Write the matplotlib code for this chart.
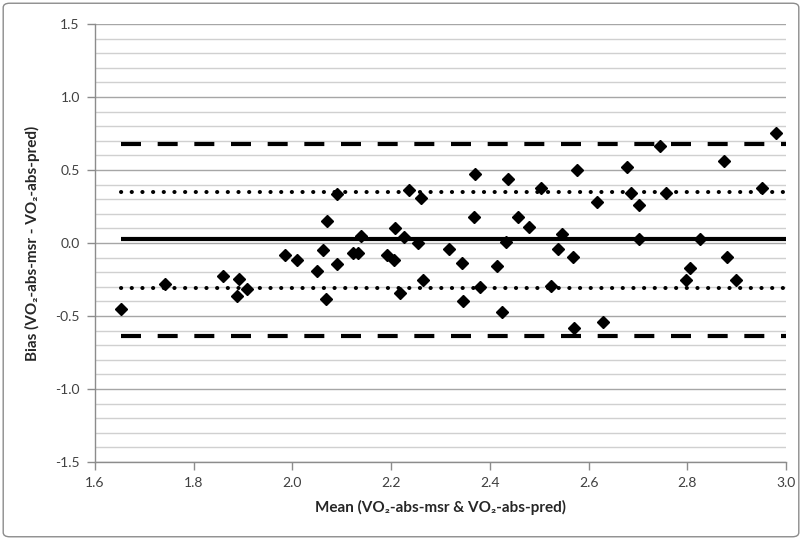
import matplotlib
matplotlib.use("Agg")
import matplotlib.pyplot as plt
from matplotlib.patches import FancyBboxPatch
import numpy as np

# mean of the two methods (x) and the bias (y)
mean_vals = [1.653, 1.742, 1.860, 1.892, 1.887, 1.907, 1.985, 2.009, 2.061, 2.050,
             2.069, 2.071, 2.090, 2.090, 2.122, 2.133, 2.138, 2.191, 2.206, 2.208,
             2.218, 2.226, 2.237, 2.255, 2.260, 2.265, 2.317, 2.343, 2.345, 2.369,
             2.367, 2.381, 2.414, 2.425, 2.432, 2.437, 2.458, 2.480, 2.503, 2.524,
             2.539, 2.547, 2.568, 2.577, 2.570, 2.630, 2.618, 2.678, 2.687, 2.703,
             2.702, 2.745, 2.757, 2.826, 2.806, 2.797, 2.874, 2.880, 2.898, 2.951,
             2.980]
bias_vals = [-0.450, -0.283, -0.224, -0.249, -0.363, -0.317, -0.080, -0.119, -0.048, -0.190,
             -0.386, 0.151, 0.333, -0.146, -0.071, -0.071, 0.048, -0.082, -0.116, 0.105,
             -0.340, 0.043, 0.363, 0.002, 0.310, -0.253, -0.041, -0.135, -0.397, 0.473,
             0.180, -0.304, -0.158, -0.470, 0.009, 0.438, 0.180, 0.107, 0.374, -0.292,
             -0.043, 0.062, -0.098, 0.500, -0.584, -0.543, 0.279, 0.518, 0.340, 0.260,
             0.025, 0.664, 0.340, 0.027, -0.169, -0.253, 0.564, -0.098, -0.253, 0.374,
             0.755]

mean_bias = 0.025
sd_upper, sd_lower = 0.349, -0.308      # +/- 1 SD
loa_upper, loa_lower = 0.678, -0.637    # +/- 1.96 SD

xmin, xmax = 1.6, 3.0
ymin, ymax = -1.5, 1.5

plt.rcParams['font.family'] = ['Lato', 'DejaVu Sans']

fig = plt.figure(figsize=(8.02, 5.40), dpi=100)
ax = fig.add_axes([0.1185, 0.1444, 0.8615, 0.8112])

# chart border
fig.patches.append(FancyBboxPatch((0.004, 0.006), 0.992, 0.988,
                                  boxstyle="round,pad=0,rounding_size=0.008",
                                  transform=fig.transFigure, fill=False,
                                  edgecolor='#8c8c8c', linewidth=1.0))

# horizontal gridlines
for v in np.arange(-15, 16) / 10:
    major = abs(v * 2 - round(v * 2)) < 1e-9
    ax.axhline(v, color='#a6a6a6' if major else '#d0d0d0', lw=1.0, zorder=0)

xl = [min(mean_vals), xmax]
ax.plot(xl, [loa_upper] * 2, color='black', lw=3.0, linestyle=(0, (4.8, 4.0)), dash_capstyle='butt')
ax.plot(xl, [loa_lower] * 2, color='black', lw=3.0, linestyle=(0, (4.8, 4.0)), dash_capstyle='butt')
ax.plot(xl, [sd_upper] * 2, color='black', lw=2.9, linestyle=(0, (0.05, 2.6)), dash_capstyle='round')
ax.plot(xl, [sd_lower] * 2, color='black', lw=2.9, linestyle=(0, (0.05, 2.6)), dash_capstyle='round')
ax.plot(xl, [mean_bias] * 2, color='black', lw=3.0, solid_capstyle='butt')

ax.plot(mean_vals, bias_vals, linestyle='none', marker='D', markersize=6.5,
        color='black', zorder=5)

ax.set_xlim(xmin, xmax)
ax.set_ylim(ymin, ymax)
ax.set_xticks(np.arange(16, 31, 2) / 10)
ax.set_yticks(np.arange(-15, 16, 5) / 10)
ax.xaxis.set_major_formatter(plt.FormatStrFormatter('%.1f'))
ax.yaxis.set_major_formatter(plt.FormatStrFormatter('%.1f'))

for s in ['top', 'right']:
    ax.spines[s].set_visible(False)
for s in ['left', 'bottom']:
    ax.spines[s].set_color('#8c8c8c')
    ax.spines[s].set_linewidth(1.0)
ax.tick_params(direction='out', length=6, width=1, color='#8c8c8c',
               labelsize=10, labelcolor='#404040', pad=5)

ax.set_xlabel('Mean (VO₂-abs-msr & VO₂-abs-pred)', fontsize=11, fontweight='bold',
              color='#262626', labelpad=8)
ax.set_ylabel('Bias (VO₂-abs-msr - VO₂-abs-pred)', fontsize=11, fontweight='bold',
              color='#262626', labelpad=11)

fig.savefig('out.png', dpi=100)
